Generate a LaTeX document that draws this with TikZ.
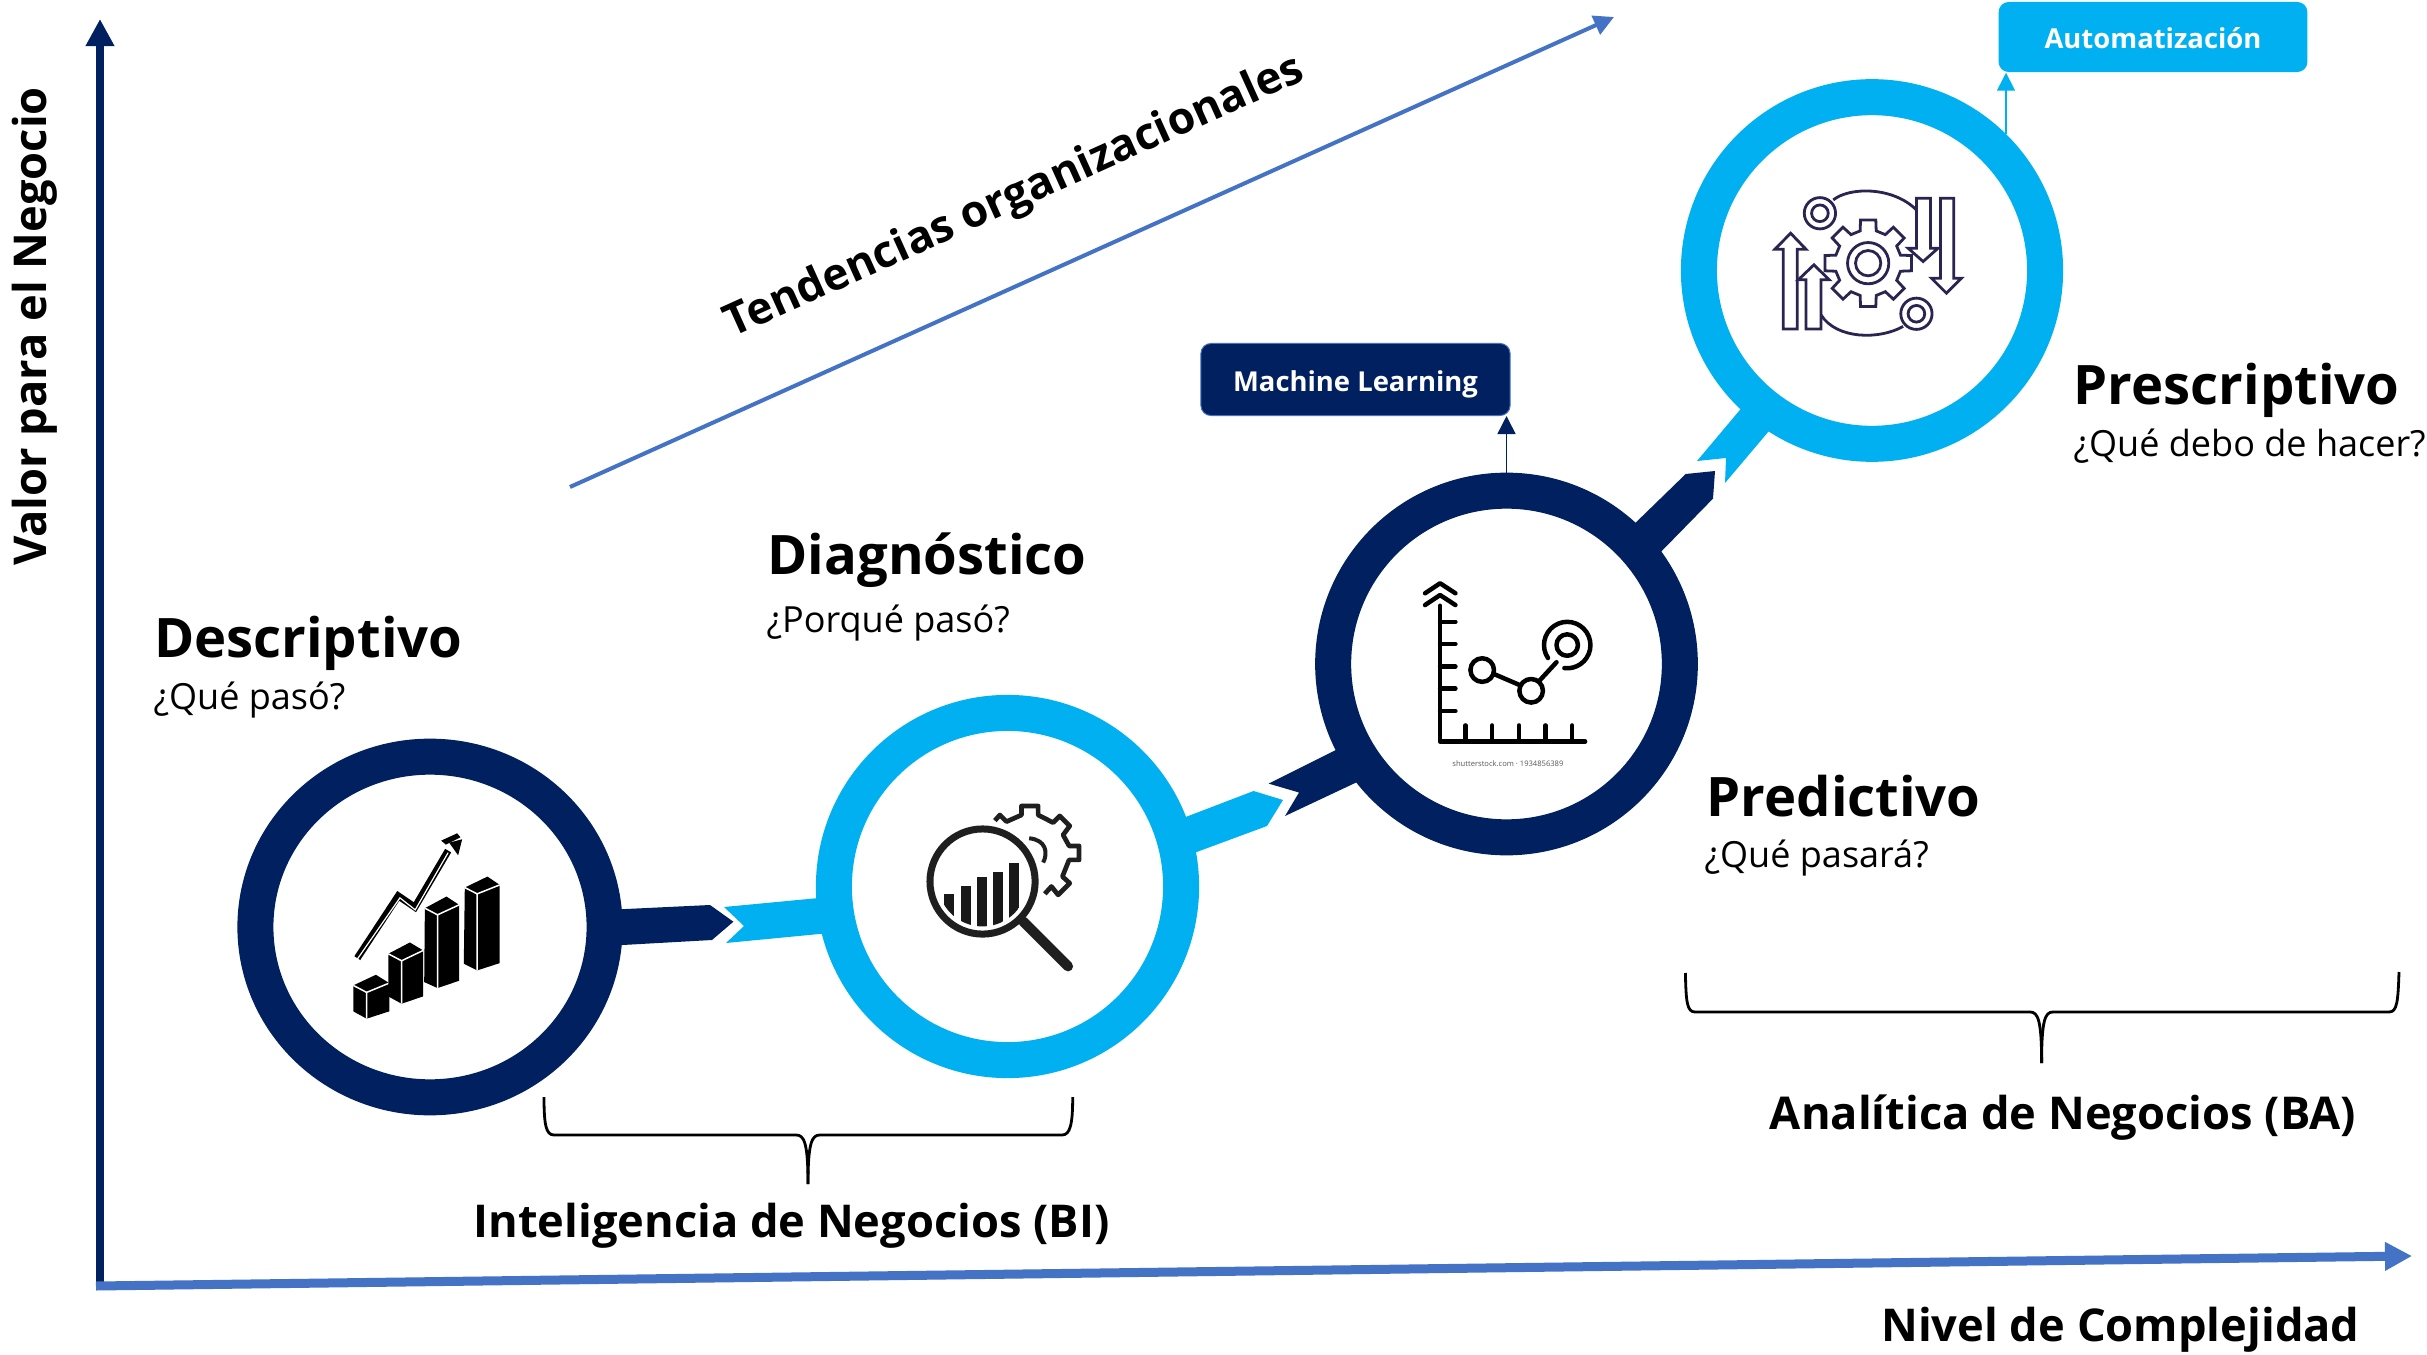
\documentclass[tikz,border=0pt]{standalone}
\usepackage{fontspec}
\setmainfont{Open Sans}
\usetikzlibrary{arrows.meta,shapes.geometric}
\definecolor{navy}{HTML}{002060}
\definecolor{cyanb}{HTML}{00B0F0}
\definecolor{blueb}{HTML}{4472C4}
\definecolor{iconp}{HTML}{2A2450}
\newcommand{\fs}[1]{\fontsize{\fpeval{#1*0.28453}pt}{\fpeval{#1*0.3}pt}\selectfont}
\newcommand{\isobar}[9]{% l c r ; back lTop cTop rTop ; lBot cBot
  \fill[black] (#1,#5) -- (#1+#3-#2,#4) -- (#3,#7) -- (#3,#9-22) -- (#2,#9) -- (#2-40,#8) -- cycle;
  \draw[white,line width=.015cm] (#1,#5) -- (#2,#6) -- (#3,#7) (#2,#6) -- (#2,#9);
}
\tikzset{
  ring/.style={ellipse,inner sep=0pt,fill=white,line width=.36cm},
  ttl/.style={anchor=base west,inner sep=0pt,font=\fs{54.4}\bfseries},
  sub/.style={anchor=base west,inner sep=0pt,font=\fs{36}},
  lbl/.style={anchor=base,inner sep=0pt,font=\fs{45.2}\bfseries},
  tag/.style={rounded corners=.1cm,minimum height=.72cm,text=white,text height=.23cm,text depth=0pt,inner ysep=0pt,font=\fs{27.4}\bfseries},
  brace/.style={line width=.028cm,black},
  tagarrow/.style={line width=.016cm,-{Triangle[length=.18cm,width=.18cm]}},
  iconline/.style={iconp,line width=.028cm},
  icontwo/.style={black!88,line width=.047cm,line join=round}
}
\begin{document}
\begin{tikzpicture}[x=.01cm,y=-.01cm]
\useasboundingbox (0,0) rectangle (2427,1355);
\fill[white] (0,0) rectangle (2427,1355);
% axes
\coordinate (yo) at (100,1285);
\coordinate (yt) at (100,19);
\coordinate (xo) at (96,1286);
\coordinate (xt) at (2412,1256);
\coordinate (ta) at (570,487);
\coordinate (tb) at (1614,17);
\draw[navy,line width=.085cm,-{Triangle[length=.27cm,width=.27cm]}] (yo) -- (yt);
\draw[blueb,line width=.09cm,-{Triangle[length=.27cm,width=.27cm]}] (xo) -- (xt);
\draw[blueb,line width=.04cm,-{Triangle[length=.2cm,width=.2cm]}] (ta) -- (tb);
% connectors (ribbons)
\fill[navy] (605,910) -- (710,905) -- (733.4,921.7) -- (712,940) -- (605,946) -- cycle;
\fill[cyanb] (724,907) -- (840,896) -- (840,932) -- (726,943) -- (744,926) -- cycle;
\fill[cyanb] (1170,823) -- (1253.6,791) -- (1283,800) -- (1267,826) -- (1175,860) -- cycle;
\fill[navy] (1268.6,783.6) -- (1350,743) -- (1370,776) -- (1285,816) -- (1299,792.5) -- cycle;
\fill[navy] (1625,533) -- (1685.7,474) -- (1715,471) -- (1713,498.6) -- (1650,563) -- cycle;
\fill[cyanb] (1755,392) -- (1697,461) -- (1726,458) -- (1725,483) -- (1785,412) -- cycle;
% rings
\node[ring,draw=navy,minimum width=3.49cm,minimum height=3.405cm] (r1) at (430,927) {};
\node[ring,draw=cyanb,minimum width=3.47cm,minimum height=3.47cm] (r2) at (1007.5,886.5) {};
\node[ring,draw=navy,minimum width=3.465cm,minimum height=3.465cm] (r3) at (1506.5,664) {};
\node[ring,draw=cyanb,minimum width=3.46cm,minimum height=3.465cm] (r4) at (1872,270.5) {};
% tags
\node[tag,fill=navy,draw=blueb,line width=.01cm,minimum width=3.09cm] (ml) at (1355.5,379.5) {Machine Learning};
\node[tag,fill=cyanb,minimum width=3.085cm,minimum height=.7cm] (auto) at (2153,37) {Automatización};
\draw[tagarrow,navy] (r3.north) -- (r3.north |- ml.south);
\coordinate (autostart) at (2006,134);
\draw[tagarrow,cyanb] (autostart) -- (autostart |- auto.south);
% icon 1
\begin{scope}[shift={(340,820)},x=.003333cm,y=-.003333cm]
\isobar{40}{80}{148}{465}{497}{518}{490}{575}{597}
\isobar{145}{185}{250}{368}{402}{423}{392}{530}{552}
\isobar{255}{293}{358}{230}{265}{285}{255}{487}{505}
\isobar{375}{412}{480}{170}{203}{222}{195}{432}{452}
\draw[black,line width=.07cm,miter limit=3] (52,415) -- (175,228) -- (225,262) -- (325,92);
\draw[white,line width=.012cm] (52,418) -- (180,234) -- (226,270) -- (325,98);
\fill[black] (328,68) -- (367,58) -- (355,106) -- cycle;
\fill[black] (304,62) -- (352,40) -- (362,52) -- (318,74) -- cycle;
\end{scope}
% icon 2
\begin{scope}[shift={(910,790)},x=.003333cm,y=-.003333cm]
\begin{scope}
\clip (218,275) circle (135);
\foreach \xa/\xb/\yt in {103/133/313,152/182/288,200/230/262,250/280/247,298/328/220}
  \fill[black!90] (\xa,\yt) rectangle (\xb,420);
\end{scope}
\draw[icontwo] (255,92) -- (270,75) -- (290,95) -- (335,75) -- (335,48) -- (385,48) -- (385,75) -- (430,98) -- (450,78) -- (480,108) -- (460,135) -- (478,168) -- (508,168) -- (508,210) -- (478,210) -- (458,260) -- (480,280) -- (445,315) -- (425,290) -- (405,312);
\draw[icontwo,line width=.04cm] (358,145) .. controls (410,150) and (415,190) .. (400,218);
\draw[icontwo,line width=.07cm] (218,275) circle (158);
\draw[icontwo,line width=.1cm,line cap=round] (340,395) -- (475,530);
\end{scope}
% icon 3
\begin{scope}[shift={(1200,320)},x=.003571cm,y=-.003571cm,line cap=round,line join=round]
\draw[black,line width=.045cm] (672,800) -- (672,1180) -- (1078,1180);
\foreach \yy in {845,907,970,1032,1095} \draw[black,line width=.045cm] (672,\yy) -- (715,\yy);
\foreach \xx in {743,818,893,967,1042} \draw[black,line width=.045cm] (\xx,1180) -- (\xx,1135);
\draw[black,line width=.045cm] (630,765) -- (672,737) -- (715,765) (630,798) -- (672,770) -- (715,798);
\draw[black,line width=.045cm] (790,980) circle (33) (927,1038) circle (33) (1028,910) circle (30);
\draw[black,line width=.045cm] (825,992) -- (895,1022) (950,1010) -- (998,958);
\draw[black,line width=.045cm] (1028,910) ++(146:65) arc[start angle=146,end angle=457,radius=65];
\node[text=black!65,font=\fs{7.6},inner sep=0pt] (stamp) at (862,1242) {shutterstock.com · 1934856389};
\end{scope}
% icon 4
\begin{scope}[shift={(1760,170)},x=.003333cm,y=-.003333cm]
\draw[iconline] (220,90) .. controls (270,50) and (400,50) .. (470,120);
\draw[iconline] (183,435) .. controls (230,510) and (360,510) .. (430,470);
\begin{scope}[shift={(325,280)}]
\draw[iconline,line join=miter] (-14:100) \foreach \a in {0,45,...,315} { -- (\a-14:100) -- (\a-10:132) -- (\a+10:132) -- (\a+14:100) } -- cycle;
\draw[iconline] (0,0) circle (62) (0,0) circle (38);
\end{scope}
\draw[iconline] (180,130) circle (47) (180,130) circle (25);
\draw[iconline] (470,432) circle (47) (470,432) circle (25);
\draw[iconline,fill=white] (70,478) -- (70,238) -- (45,238) -- (92,190) -- (138,238) -- (112,238) -- (112,478) -- cycle;
\draw[iconline,fill=white] (138,478) -- (138,330) -- (115,330) -- (162,285) -- (208,330) -- (183,330) -- (183,478) -- cycle;
\draw[iconline,fill=white] (470,85) -- (512,85) -- (512,235) -- (535,235) -- (490,275) -- (445,235) -- (470,235) -- cycle;
\draw[iconline,fill=white] (542,85) -- (582,85) -- (582,325) -- (605,325) -- (560,370) -- (515,325) -- (542,325) -- cycle;
\end{scope}
% braces
\coordinate (bil) at (544,1097); \coordinate (bir) at (1072.7,1097); \coordinate (bic) at (808,1184);
\draw[brace] (bil) .. controls (544,1125) and (546,1135) .. (554,1135) -- (796,1135) .. controls (804,1135) and (808,1142) .. (bic);
\draw[brace] (bir) .. controls (1072.7,1125) and (1070,1135) .. (1062,1135) -- (820,1135) .. controls (812,1135) and (808,1142) .. (bic);
\coordinate (bal) at (1685.4,973); \coordinate (bar) at (2399,972); \coordinate (bac) at (2041.6,1063);
\draw[brace] (bal) .. controls (1686,1002) and (1687,1012) .. (1695,1012) -- (2030,1012) .. controls (2038,1012) and (2041.6,1020) .. (bac);
\draw[brace] (bar) .. controls (2398,1002) and (2397,1012) .. (2389,1012) -- (2053,1012) .. controls (2045,1012) and (2041.6,1020) .. (bac);
% text
\node[ttl] (t1) at (153.5,657.5) {Descriptivo};
\node[sub] (s1) at (153,709) {¿Qué pasó?};
\node[ttl] (t2) at (767,574) {Diagnóstico};
\node[sub] (s2) at (766,633) {¿Porqué pasó?};
\node[ttl] (t3) at (1706,816) {Predictivo};
\node[sub] (s3) at (1704,867.5) {¿Qué pasará?};
\node[ttl] (t4) at (2073,405) {Prescriptivo};
\node[sub] (s4) at (2073,457) {¿Qué debo de hacer?};
\node[lbl] (bi) at (791.5,1237.5) {Inteligencia de Negocios (BI)};
\node[lbl] (ba) at (2063,1129.5) {Analítica de Negocios (BA)};
\node[lbl] (xl) at (2120.5,1341.5) {Nivel de Complejidad};
\node[lbl,rotate=90] (yl) at (46,326.5) {Valor para el Negocio};
\node[font=\fs{44.3}\bfseries,rotate=24.3,inner sep=0pt] (tr) at (1015,198) {Tendencias organizacionales};
\end{tikzpicture}
\end{document}
